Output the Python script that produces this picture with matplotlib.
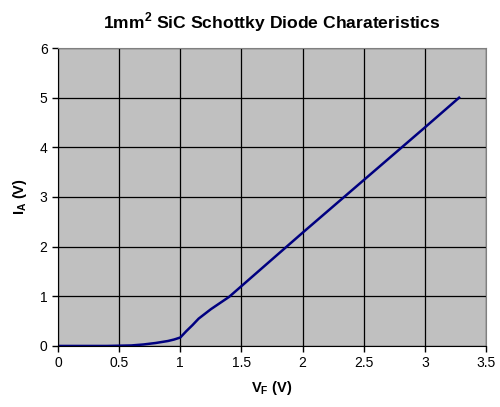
import matplotlib
matplotlib.use('Agg')
import matplotlib.pyplot as plt

# Forward voltage (V) and current (A)
vf = [0, 0.2, 0.4, 0.6, 0.7, 0.8, 0.9, 0.95, 1.0, 1.05, 1.1, 1.15,
      1.25, 1.4, 1.6, 1.8, 2.0, 2.25, 2.5, 2.75, 3.0, 3.28]
ia = [0, 0, 0, 0.01, 0.03, 0.06, 0.1, 0.13, 0.17, 0.3, 0.42, 0.55,
      0.74, 0.99, 1.42, 1.85, 2.28, 2.81, 3.34, 3.87, 4.4, 5.0]

xticks = [0, 0.5, 1, 1.5, 2, 2.5, 3, 3.5]
yticks = [0, 1, 2, 3, 4, 5, 6]

plt.rcParams['font.family'] = 'Liberation Sans'
plt.rcParams['mathtext.fontset'] = 'custom'
plt.rcParams['mathtext.rm'] = 'Liberation Sans'
plt.rcParams['mathtext.bf'] = 'Liberation Sans:bold'

fig = plt.figure(figsize=(5, 4.07), dpi=100)
ax = fig.add_axes([0.116, 0.15, 0.856, 0.732])
ax.set_facecolor('#c0c0c0')

ax.plot(vf, ia, color='#000080', linewidth=1.8)

ax.set_xlim(0, 3.5)
ax.set_ylim(0, 6)
ax.set_xticks(xticks)
ax.set_xticklabels(['0', '0.5', '1', '1.5', '2', '2.5', '3', '3.5'])
ax.set_yticks(yticks)
ax.grid(True, color='black', linewidth=0.9)
ax.set_axisbelow(True)
ax.tick_params(direction='out', length=4, width=1, labelsize=10, colors='black')

for side in ['top', 'right']:
    ax.spines[side].set_color('#808080')
for side in ['left', 'bottom']:
    ax.spines[side].set_color('black')

ax.set_title(r'1mm$^\mathbf{2}$ SiC Schottky Diode Charateristics',
             fontsize=12.6, fontweight='bold', pad=14)
ax.set_xlabel(r'$\mathbf{V_F}$ (V)', fontsize=10.5, fontweight='bold', labelpad=6)
ax.set_ylabel(r'$\mathbf{I_A}$ (V)', fontsize=10.5, fontweight='bold', labelpad=8)

plt.savefig('out.png', dpi=100)
